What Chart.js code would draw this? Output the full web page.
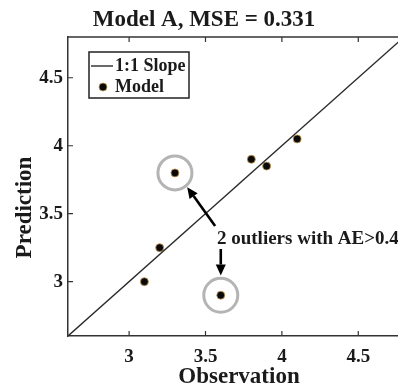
<!DOCTYPE html>
<html>
<head>
<meta charset="utf-8">
<script src="https://cdn.jsdelivr.net/npm/chart.js@4.4.1/dist/chart.umd.min.js"></script>
<style>
  html, body { margin: 0; padding: 0; background: #fff; overflow: hidden; }
  #wrap { width: 398px; height: 389px; }
  canvas { display: block; }
</style>
</head>
<body>
<div id="wrap"><canvas id="scatter"></canvas></div>
<script>
// ── data ─────────────────────────────────────────
const observation = [3.1, 3.2, 3.3, 3.6, 3.8, 3.9, 4.1];
const prediction  = [3.0, 3.25, 3.8, 2.9, 3.9, 3.85, 4.05];
const outlierIdx  = [2, 3];            // AE > 0.4
const slopeEnds   = [2.6, 4.8];
const xTicks = [3, 3.5, 4, 4.5];
const yTicks = [3, 3.5, 4, 4.5];

const FONT = "'Liberation Serif', 'Times New Roman', serif";
const INK  = '#1a1a1a';

// annotation placement (data units)
const note = { text: '2 outliers with AE>0.4', x: 3.575, y: 3.315 };
const arrows = [
    { from: [3.563, 3.41], to: [3.38, 3.695] },
    { from: [3.60, 3.24],  to: [3.60, 3.045] },
];

// ── 框线、内向刻度、轴标题、图例、注释 ────────────────
const decorPlugin = {
    id: 'decor',
    afterDatasetsDraw(chart) {
        const { ctx, chartArea: a, scales: { x, y } } = chart;
        ctx.save();

        // top frame + inward ticks
        ctx.strokeStyle = '#333';
        ctx.lineWidth = 1.5;
        ctx.beginPath();
        ctx.moveTo(a.left, a.top); ctx.lineTo(a.right + 2, a.top);
        ctx.stroke();
        ctx.lineWidth = 1.2;
        ctx.beginPath();
        xTicks.forEach(v => {
            const px = x.getPixelForValue(v);
            ctx.moveTo(px, a.bottom); ctx.lineTo(px, a.bottom - 5);
            ctx.moveTo(px, a.top);    ctx.lineTo(px, a.top + 5);
        });
        yTicks.forEach(v => {
            const py = y.getPixelForValue(v);
            ctx.moveTo(a.left, py); ctx.lineTo(a.left + 5, py);
        });
        ctx.stroke();

        // axis titles (MATLAB centres them a bit off the plot box)
        ctx.fillStyle = INK;
        ctx.font = `bold 23px ${FONT}`;
        ctx.textAlign = 'center';
        ctx.textBaseline = 'middle';
        ctx.fillText('Observation', (a.left + a.right) / 2 + 6, chart.height - 11.5);
        ctx.save();
        ctx.translate(25, (a.top + a.bottom) / 2 + 21);
        ctx.rotate(-Math.PI / 2);
        ctx.fillText('Prediction', 0, 0);
        ctx.restore();

        // arrows
        ctx.strokeStyle = '#000';
        ctx.fillStyle = '#000';
        arrows.forEach(ar => {
            const x0 = x.getPixelForValue(ar.from[0]), y0 = y.getPixelForValue(ar.from[1]);
            const x1 = x.getPixelForValue(ar.to[0]),   y1 = y.getPixelForValue(ar.to[1]);
            const ang = Math.atan2(y1 - y0, x1 - x0);
            const hl = 11, hw = 5;
            const bx = x1 - hl * Math.cos(ang), by = y1 - hl * Math.sin(ang);
            ctx.lineWidth = 2.6;
            ctx.beginPath(); ctx.moveTo(x0, y0); ctx.lineTo(bx, by); ctx.stroke();
            ctx.beginPath();
            ctx.moveTo(x1, y1);
            ctx.lineTo(bx + hw * Math.sin(ang), by - hw * Math.cos(ang));
            ctx.lineTo(bx - hw * Math.sin(ang), by + hw * Math.cos(ang));
            ctx.closePath(); ctx.fill();
        });

        // note text
        ctx.font = `bold 19px ${FONT}`;
        ctx.fillStyle = INK;
        ctx.textAlign = 'left';
        ctx.textBaseline = 'middle';
        ctx.fillText(note.text, x.getPixelForValue(note.x), y.getPixelForValue(note.y));

        // legend box
        const lx = a.left + 21, ly = a.top + 15, lw = 100, lh = 46;
        ctx.fillStyle = '#fff';
        ctx.fillRect(lx, ly, lw, lh);
        ctx.strokeStyle = '#222';
        ctx.lineWidth = 1.5;
        ctx.strokeRect(lx, ly, lw, lh);

        const line = chart.data.datasets[0], pts = chart.data.datasets[1];
        ctx.strokeStyle = line.borderColor;
        ctx.lineWidth = line.borderWidth;
        ctx.beginPath(); ctx.moveTo(lx + 2, ly + 14); ctx.lineTo(lx + 24, ly + 14); ctx.stroke();
        ctx.beginPath();
        ctx.arc(lx + 14, ly + 35, pts.pointRadius, 0, Math.PI * 2);
        ctx.fillStyle = pts.backgroundColor; ctx.fill();
        ctx.strokeStyle = pts.borderColor; ctx.lineWidth = pts.borderWidth; ctx.stroke();

        ctx.fillStyle = INK;
        ctx.font = `bold 18px ${FONT}`;
        ctx.fillText(line.label, lx + 26, ly + 14);
        ctx.fillText(pts.label, lx + 26, ly + 35);
        ctx.restore();
    }
};

const modelPts = observation.map((v, i) => ({ x: v, y: prediction[i] }));
const tickFont = { family: FONT, size: 19, weight: 'bold' };

new Chart(document.getElementById('scatter'), {
    type: 'scatter',
    data: {
        datasets: [
            {
                label: '1:1 Slope',
                data: slopeEnds.map(v => ({ x: v, y: v })),
                showLine: true,
                borderColor: '#2a2a2a',
                borderWidth: 1.4,
                pointRadius: 0,
            },
            {
                label: 'Model',
                data: modelPts,
                backgroundColor: '#0a0a0a',
                borderColor: '#c9a055',
                borderWidth: 0.8,
                pointRadius: 4,
            },
            {
                label: 'outliers',
                data: outlierIdx.map(i => modelPts[i]),
                backgroundColor: 'rgba(0,0,0,0)',
                borderColor: '#b4b4b4',
                borderWidth: 3,
                pointRadius: 17,
            },
        ]
    },
    options: {
        responsive: true,
        maintainAspectRatio: false,
        animation: false,
        layout: { autoPadding: false, padding: { left: 10, right: 0, top: 0, bottom: 0 } },
        plugins: {
            legend: { display: false },
            tooltip: { enabled: false },
            title: {
                display: true,
                text: 'Model A, MSE = 0.331',
                color: INK,
                font: { family: FONT, size: 23, weight: 'bold', lineHeight: 1.2 },
                padding: { top: 6, bottom: 3.4 },
            },
        },
        scales: {
            x: {
                min: 2.6, max: 4.76,
                afterBuildTicks: s => { s.ticks = xTicks.map(v => ({ value: v })); },
                afterFit: s => { s.height = 53; },
                grid: { display: false, drawTicks: false },
                border: { color: '#333', width: 1.5 },
                ticks: { color: INK, padding: 10, font: tickFont, callback: v => String(v) },
            },
            y: {
                min: 2.6, max: 4.8,
                afterBuildTicks: s => { s.ticks = yTicks.map(v => ({ value: v })); },
                afterFit: s => { s.width = 58; },
                grid: { display: false, drawTicks: false },
                border: { color: '#333', width: 1.5 },
                ticks: { color: INK, padding: 5, font: tickFont, callback: v => String(v) },
            },
        }
    },
    plugins: [decorPlugin]
});
</script>
</body>
</html>
